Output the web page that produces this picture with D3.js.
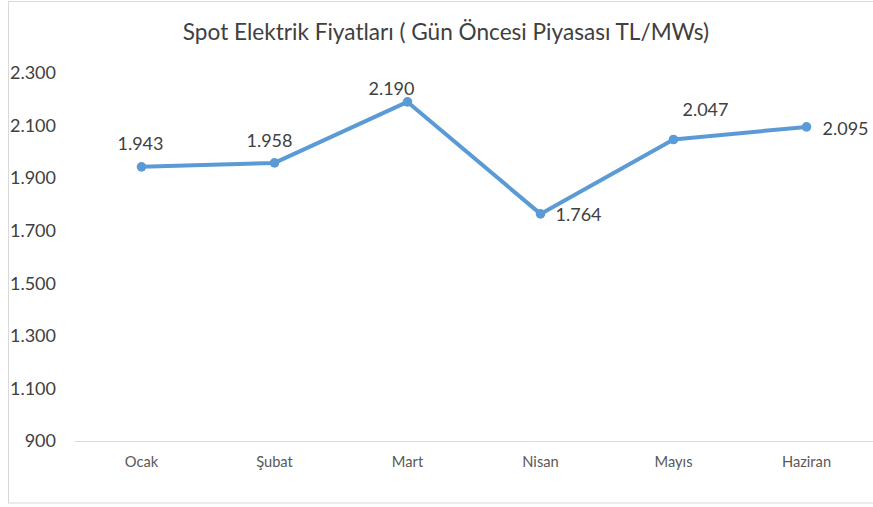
<!DOCTYPE html>
<html><head><meta charset="utf-8">
<script src="https://cdn.jsdelivr.net/npm/d3@7"></script>
<style>body{margin:0;background:#fff;} svg{display:block;font-family:Lato,"Open Sans",sans-serif;}</style>
</head><body>
<svg id="c" width="873" height="507"></svg>
<script>
const title = "Spot Elektrik Fiyatları ( Gün Öncesi Piyasası TL/MWs)";
const categories = ["Ocak","Şubat","Mart","Nisan","Mayıs","Haziran"];
const values = [1943,1958,2190,1764,2047,2095];
const valueLabels = ["1.943","1.958","2.190","1.764","2.047","2.095"];
const yTicks = [900,1100,1300,1500,1700,1900,2100,2300];
const yTickLabels = ["900","1.100","1.300","1.500","1.700","1.900","2.100","2.300"];

// label placement (layout only)
const labelOffset = {
  "Ocak":[-1,-23,"middle"], "Şubat":[-5,-22,"middle"], "Mart":[-16,-13,"middle"],
  "Nisan":[15,1,"start"], "Mayıs":[32,-30,"middle"], "Haziran":[16,2,"start"]
};

const svg = d3.select("#c");
svg.append("rect").attr("x",8.5).attr("y",1.5).attr("width",880).attr("height",501.5)
  .attr("fill","#fff").attr("stroke","#d9d9d9").attr("stroke-width",1);

const x = d3.scaleBand().domain(categories).range([75,873]);
const y = d3.scaleLinear().domain([900,2300]).range([441,73]);

svg.append("text").attr("x",446).attr("y",40).attr("text-anchor","middle")
  .attr("font-size",22.6).attr("fill","#404040").text(title);

svg.append("line").attr("x1",75).attr("x2",873).attr("y1",y(900)+0.5).attr("y2",y(900)+0.5)
  .attr("stroke","#d9d9d9").attr("stroke-width",1);

svg.append("g").selectAll("text").data(yTicks).join("text")
  .attr("x",56).attr("y",d=>y(d)).attr("dy","0.35em").attr("text-anchor","end")
  .attr("font-size",18).attr("fill","#404040").text((d,i)=>yTickLabels[i]);

svg.append("g").selectAll("text").data(categories).join("text")
  .attr("x",d=>x(d)+x.bandwidth()/2).attr("y",467).attr("text-anchor","middle")
  .attr("font-size",14.7).attr("fill","#595959").text(d=>d);

const data = categories.map((c,i)=>({c,v:values[i],l:valueLabels[i]}));
const line = d3.line().x(d=>x(d.c)+x.bandwidth()/2).y(d=>y(d.v));
svg.append("path").datum(data).attr("d",line).attr("fill","none")
  .attr("stroke","#5b9bd5").attr("stroke-width",4).attr("stroke-linejoin","round").attr("stroke-linecap","round");
svg.append("g").selectAll("circle").data(data).join("circle")
  .attr("cx",d=>x(d.c)+x.bandwidth()/2).attr("cy",d=>y(d.v)).attr("r",4.8).attr("fill","#5b9bd5");

svg.append("g").selectAll("text").data(data).join("text")
  .attr("x",d=>x(d.c)+x.bandwidth()/2 + labelOffset[d.c][0])
  .attr("y",d=>y(d.v) + labelOffset[d.c][1])
  .attr("dy","0.35em")
  .attr("text-anchor",d=>labelOffset[d.c][2])
  .attr("font-size",18).attr("fill","#404040").text(d=>d.l);
</script>
</body></html>
